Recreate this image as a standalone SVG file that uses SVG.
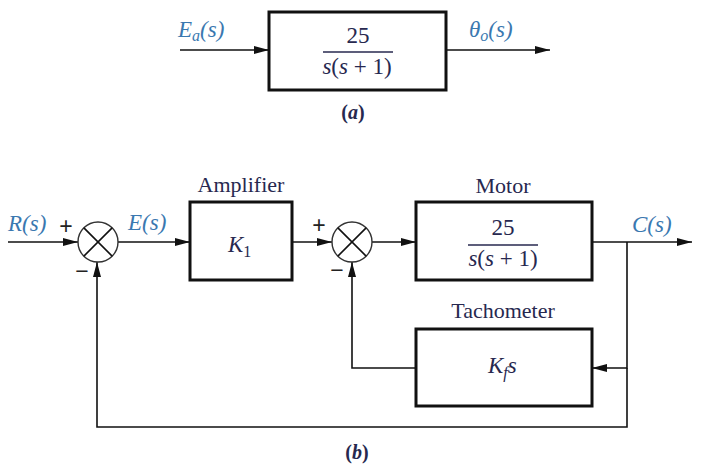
<svg xmlns="http://www.w3.org/2000/svg" width="718" height="472" viewBox="0 0 718 472">
<defs>
<style>
.box{fill:none;stroke:#111;stroke-width:3}
.ln{fill:none;stroke:#111;stroke-width:1.6}
.sum{fill:#fff;stroke:#333;stroke-width:1.4}
.sig{font-family:"Liberation Serif",serif;font-style:italic;font-size:23px;fill:#3a78b0}
.blk{font-family:"Liberation Serif",serif;font-size:22px;fill:#27284f}
.mth{font-family:"Liberation Serif",serif;font-size:23px;fill:#27284f}
.sgn{font-family:"Liberation Sans",sans-serif;font-size:23px;fill:#222;text-anchor:middle}
.cap{font-family:"Liberation Serif",serif;font-size:20px;font-weight:bold;fill:#27284f;text-anchor:middle}
</style>
<marker id="ah" markerUnits="userSpaceOnUse" markerWidth="16" markerHeight="9" refX="15" refY="4" orient="auto">
<path d="M0,0 L15,4 L0,8 Z" fill="#111"/>
</marker>
</defs>
<rect width="718" height="472" fill="#fff"/>

<g id="connectors">
<line class="ln" x1="180" y1="50" x2="269" y2="50" marker-end="url(#ah)"/>
<line class="ln" x1="446" y1="50" x2="550" y2="50" marker-end="url(#ah)"/>
<line class="ln" x1="8" y1="242" x2="78" y2="242" marker-end="url(#ah)"/>
<line class="ln" x1="118" y1="242" x2="190" y2="242" marker-end="url(#ah)"/>
<line class="ln" x1="292" y1="242" x2="332" y2="242" marker-end="url(#ah)"/>
<line class="ln" x1="372" y1="242" x2="416" y2="242" marker-end="url(#ah)"/>
<line class="ln" x1="592" y1="242" x2="692" y2="242" marker-end="url(#ah)"/>
<polyline class="ln" points="627,242 627,368 592,368" marker-end="url(#ah)"/>
<polyline class="ln" points="416,368 352,368 352,262" marker-end="url(#ah)"/>
<polyline class="ln" points="627,368 627,427 97,427 97,262" marker-end="url(#ah)"/>
</g>

<g id="plant-a">
<rect class="box" x="269" y="12" width="177" height="78"/>
<text class="mth" x="358" y="43" text-anchor="middle">25</text>
<line x1="323" y1="52" x2="393" y2="52" stroke="#27284f" stroke-width="1.6"/>
<text class="mth" x="357" y="74" text-anchor="middle"><tspan font-style="italic">s</tspan>(<tspan font-style="italic">s</tspan> + 1)</text>
</g>
<g id="label-ea">
<text class="sig" x="178" y="37">E<tspan font-size="16" dy="4">a</tspan><tspan dy="-4">(s)</tspan></text>
</g>
<g id="label-theta">
<text class="sig" x="469" y="37">θ<tspan font-size="16" dy="4">o</tspan><tspan dy="-4">(s)</tspan></text>
</g>
<g id="caption-a"><text class="cap" x="353" y="119">(<tspan font-style="italic">a</tspan>)</text></g>

<g id="sum1">
<circle class="sum" cx="98" cy="242" r="20"/>
<path class="ln" stroke-width="1.3" d="M83.9,227.9 L112.1,256.1 M112.1,227.9 L83.9,256.1"/>
<text class="sgn" x="66" y="234">+</text>
<text class="sgn" x="82" y="279">−</text>
</g>
<g id="label-r"><text class="sig" x="8" y="231">R(s)</text></g>
<g id="label-e"><text class="sig" x="128" y="230">E(s)</text></g>

<g id="amplifier">
<rect class="box" x="190" y="202" width="102" height="78"/>
<text class="blk" x="241" y="192" text-anchor="middle">Amplifier</text>
<text class="sig" x="228" y="252" style="fill:#27284f">K<tspan font-size="16" font-style="normal" dy="5">1</tspan></text>
</g>

<g id="sum2">
<circle class="sum" cx="352" cy="242" r="20"/>
<path class="ln" stroke-width="1.3" d="M337.9,227.9 L366.1,256.1 M366.1,227.9 L337.9,256.1"/>
<text class="sgn" x="319" y="233">+</text>
<text class="sgn" x="337" y="278">−</text>
</g>

<g id="motor">
<rect class="box" x="416" y="202" width="176" height="78"/>
<text class="blk" x="503" y="193" text-anchor="middle">Motor</text>
<text class="mth" x="503" y="235" text-anchor="middle">25</text>
<line x1="468" y1="245" x2="538" y2="245" stroke="#27284f" stroke-width="1.6"/>
<text class="mth" x="503" y="266" text-anchor="middle"><tspan font-style="italic">s</tspan>(<tspan font-style="italic">s</tspan> + 1)</text>
</g>
<g id="label-c"><text class="sig" x="632" y="232">C(s)</text></g>

<g id="tachometer">
<rect class="box" x="416" y="329" width="176" height="77"/>
<text class="blk" x="503" y="318" text-anchor="middle">Tachometer</text>
<text class="sig" x="488" y="373" style="fill:#27284f">K<tspan font-size="16" dy="5">f</tspan><tspan dy="-5">s</tspan></text>
</g>

<g id="caption-b"><text class="cap" x="357" y="459">(<tspan font-style="italic">b</tspan>)</text></g>
</svg>
